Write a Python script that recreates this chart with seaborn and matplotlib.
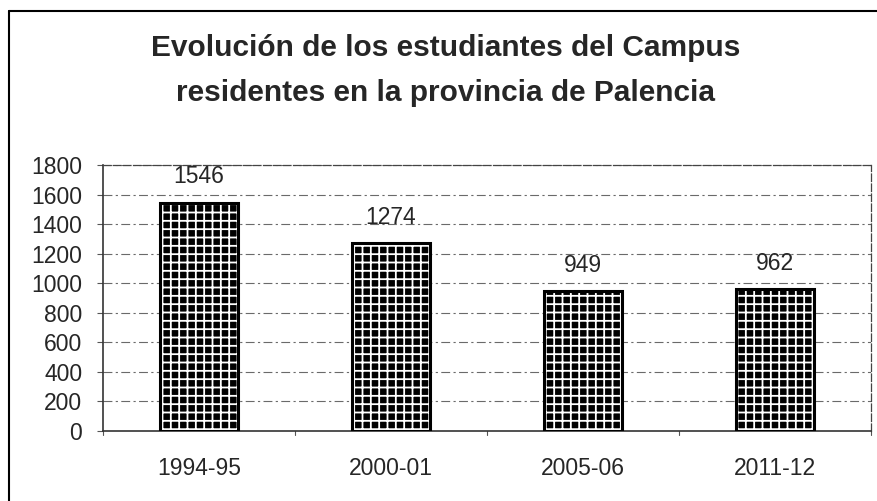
import matplotlib
matplotlib.use("Agg")
import matplotlib.pyplot as plt
import seaborn as sns
import pandas as pd
from matplotlib.lines import Line2D

periods = ["1994-95", "2000-01", "2005-06", "2011-12"]
students = [1546, 1274, 949, 962]
yticks = [0, 200, 400, 600, 800, 1000, 1200, 1400, 1600, 1800]
title_lines = ["Evolución de los estudiantes del Campus",
               "residentes en la provincia de Palencia"]

df = pd.DataFrame({"periodo": periods, "estudiantes": students})

sns.set_theme(style="white")
plt.rcParams["font.family"] = ["Liberation Sans", "DejaVu Sans"]
plt.rcParams["hatch.linewidth"] = 1.3

fig = plt.figure(figsize=(8.78, 5.01), dpi=100)
ax = fig.add_axes([103/878, 1-431/501, 768/878, 266/501])

# hatched fill (black with white grid)
sns.barplot(data=df, x="periodo", y="estudiantes", ax=ax, width=0.41,
            color="black", saturation=1, hatch="++", edgecolor="white",
            linewidth=0, zorder=3)
# black outline
sns.barplot(data=df, x="periodo", y="estudiantes", ax=ax, width=0.41,
            fill=False, edgecolor="black", linewidth=2.2, zorder=4)

ax.set_ylim(0, 1800)
ax.set_xlim(-0.5, 3.5)
ax.set_yticks(yticks)
ax.set_yticklabels([str(v) for v in yticks], fontsize=16.5)
ax.tick_params(axis="x", labelsize=16.5, length=0, pad=19)
ax.tick_params(axis="y", length=4, width=0.8, color="#555555", pad=11,
               direction="out", left=True)
ax.set_xlabel("")
ax.set_ylabel("")

# grid
for v in yticks[1:]:
    ax.axhline(v, color="#6a6a6a", lw=0.8, ls=(0, (8, 3, 2, 3)), zorder=1)

# category boundary ticks below axis
for b in [-0.5, 0.5, 1.5, 2.5, 3.5]:
    ax.plot([b, b], [0, -25], color="#555555", lw=0.8, clip_on=False)

for s in ["top", "right"]:
    ax.spines[s].set_linestyle((0, (6, 2)))
    ax.spines[s].set_color("#444444")
    ax.spines[s].set_linewidth(0.9)
for s in ["left", "bottom"]:
    ax.spines[s].set_color("#333333")
    ax.spines[s].set_linewidth(1.2)

for i, v in enumerate(students):
    ax.text(i, v + 95, str(v), ha="center", va="bottom", fontsize=16.5)

fig.text(446/878, 1 - 48/501, title_lines[0], ha="center", va="center",
         fontsize=21.5, fontweight="bold")
fig.text(446/878, 1 - 93/501, title_lines[1], ha="center", va="center",
         fontsize=21.5, fontweight="bold")

# outer frame (top and left)
fig.add_artist(Line2D([9/878, 1.0], [1-11/501, 1-11/501], color="black", lw=1.5,
                      transform=fig.transFigure))
fig.add_artist(Line2D([9/878, 9/878], [1-11/501, 0], color="black", lw=1.5,
                      transform=fig.transFigure))

fig.savefig("out.png", dpi=100)
